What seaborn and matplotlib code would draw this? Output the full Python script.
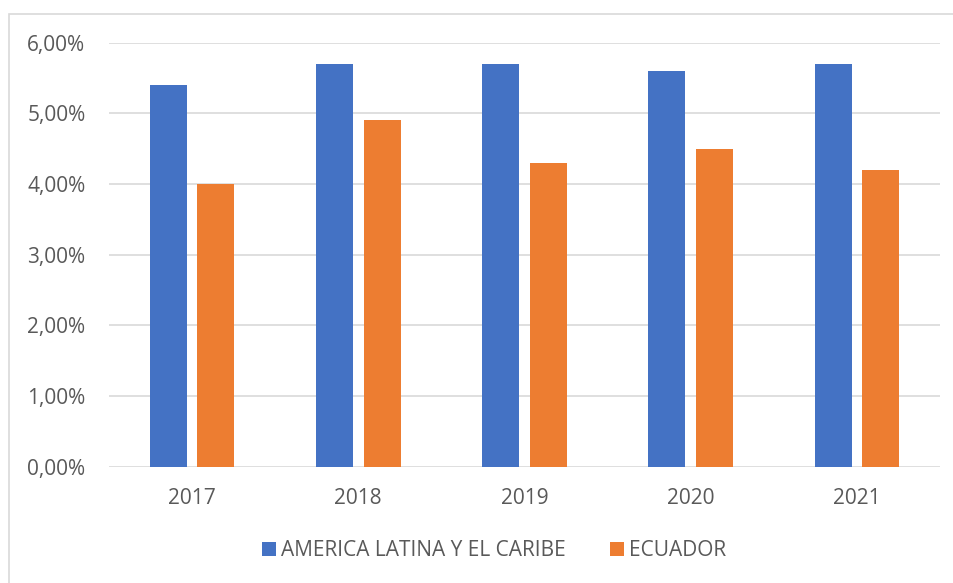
import matplotlib
matplotlib.use("Agg")
import matplotlib.pyplot as plt
from matplotlib.patches import Rectangle
from matplotlib.ticker import FuncFormatter
import seaborn as sns
import pandas as pd

years = ["2017", "2018", "2019", "2020", "2021"]
america_latina = [5.4, 5.7, 5.7, 5.6, 5.7]
ecuador = [4.0, 4.9, 4.3, 4.5, 4.2]
series_names = ["AMERICA LATINA Y EL CARIBE", "ECUADOR"]
y_ticks = [0, 1, 2, 3, 4, 5, 6]

df = pd.DataFrame({
    "year": years * 2,
    "value": america_latina + ecuador,
    "serie": [series_names[0]] * len(years) + [series_names[1]] * len(years),
})

sns.set_theme(style="white")
plt.rcParams["font.family"] = ["Open Sans", "DejaVu Sans"]
text_color = "#595959"
grid_color = "#d9d9d9"
fs = 15

fig = plt.figure(figsize=(9.54, 5.83), dpi=100)
ax = fig.add_axes([109 / 954, 1 - 466.7 / 583, (940 - 109) / 954, (466.7 - 42.7) / 583])

sns.barplot(data=df, x="year", y="value", hue="serie", order=years,
            hue_order=series_names, palette=["#4472C4", "#ED7D31"],
            width=0.572, gap=0.221, saturation=1, linewidth=0, ax=ax, legend=True)

ax.set_ylim(0, 6)
ax.set_yticks(y_ticks)
ax.yaxis.set_major_formatter(FuncFormatter(lambda v, _: f"{v:.2f}".replace(".", ",") + "%"))
ax.set_xlabel("")
ax.set_ylabel("")
ax.grid(axis="y", color=grid_color, linewidth=1.2)
ax.set_axisbelow(True)
for s in ax.spines.values():
    s.set_visible(False)
ax.tick_params(axis="both", length=0, labelsize=fs, labelcolor=text_color)
ax.tick_params(axis="y", pad=17)
ax.tick_params(axis="x", pad=15)

handles, labels = ax.get_legend_handles_labels()
ax.get_legend().remove()
fig.legend(handles, labels, loc="center", bbox_to_anchor=(494 / 954, 1 - 551 / 583),
           ncol=2, frameon=False, fontsize=fs, labelcolor=text_color,
           handlelength=0.67, handleheight=0.67, handletextpad=0.25, columnspacing=2.1)

fig.patches.append(Rectangle((9 / 954, -0.05), 1.0, 1 - 14 / 583 + 0.05,
                             transform=fig.transFigure, fill=False,
                             edgecolor=grid_color, linewidth=1.2))

fig.savefig("out.png", dpi=100)
